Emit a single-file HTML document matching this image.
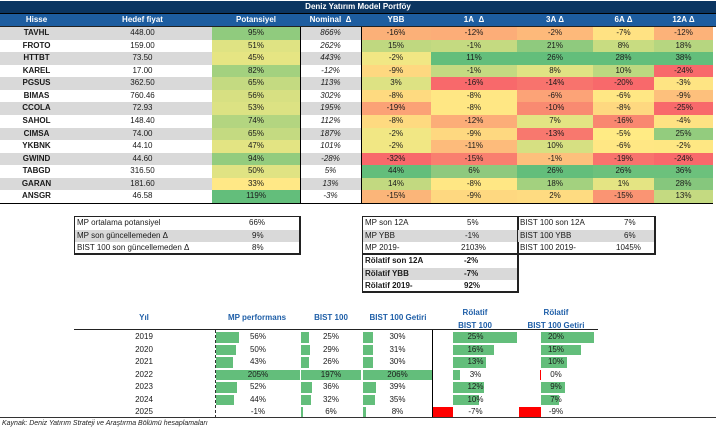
<!DOCTYPE html>
<html><head><meta charset="utf-8"><style>
*{margin:0;padding:0;box-sizing:border-box}
body{width:716px;height:432px;background:#fff;font-family:"Liberation Sans",sans-serif;font-size:8px;color:#1a1a1a;position:relative;overflow:hidden}
.a{position:absolute}
.row{position:absolute;left:0;height:12.57px;display:flex}
.row div{height:100%;line-height:12.57px;text-align:center;white-space:nowrap}
.c0{width:73px;font-weight:bold}.c1{width:139px}.c2{width:88px}.c3{width:61px;font-style:italic}.c4{width:70px}.c5{width:86px}.c6{width:76px}.c7{width:61px}.c8{width:59px}
.g{background:#d9d9d9}
.hd div{color:#fff;font-weight:bold;font-style:normal}
.box{position:absolute;border:1px solid #222;border-right-width:2px;border-bottom-width:2px}
.br{position:absolute;left:0;right:0;height:12.7px;line-height:12.7px}
.br span{position:absolute}
.yr{position:absolute;left:0;width:716px;height:12.5px;line-height:12.5px}
.yr span{position:absolute;text-align:center}
.bar{position:absolute;top:1px;height:10.5px;background:#63be7b}
.red{position:absolute;top:1px;height:10.5px;background:#ff0000}
.bh{position:absolute;color:#1f5fa8;font-weight:bold;text-align:center}
</style></head><body>
<div class="a" style="left:0;top:1px;width:716px;height:12px;background:#0b3561;color:#fff;font-weight:bold;text-align:center;line-height:12px">Deniz Yatırım Model Portföy</div>
<div class="a" style="left:0;top:13px;width:716px;height:1px;background:#000"></div>
<div class="row hd" style="top:14px;background:#1d5da0;width:716px;height:12.5px"><div class="c0">Hisse</div><div class="c1">Hedef fiyat</div><div class="c2">Potansiyel</div><div class="c3">Nominal&nbsp; Δ</div><div class="c4">YBB</div><div class="c5">1A&nbsp; Δ</div><div class="c6">3A Δ</div><div class="c7">6A Δ</div><div class="c8">12A Δ</div></div>
<div class="a" style="left:0;top:26px;width:716px;height:1px;background:#222"></div>

<div class="row" style="top:27px"><div class="c0 g">TAVHL</div><div class="c1 g">448.00</div><div class="c2" style="background:#90cb7e">95%</div><div class="c3 g">866%</div><div class="c4" style="background:#fbb078">-16%</div><div class="c5" style="background:#fcad78">-12%</div><div class="c6" style="background:#fdb97a">-2%</div><div class="c7" style="background:#ffe283">-7%</div><div class="c8" style="background:#fcb279">-12%</div></div>
<div class="row" style="top:39.57px"><div class="c0">FROTO</div><div class="c1">159.00</div><div class="c2" style="background:#dfe383">51%</div><div class="c3">262%</div><div class="c4" style="background:#bfd880">15%</div><div class="c5" style="background:#c4da81">-1%</div><div class="c6" style="background:#8fca7e">21%</div><div class="c7" style="background:#c8dc81">8%</div><div class="c8" style="background:#b6d680">18%</div></div>
<div class="row" style="top:52.14px"><div class="c0 g">HTTBT</div><div class="c1 g">73.50</div><div class="c2" style="background:#e6e583">45%</div><div class="c3 g">443%</div><div class="c4" style="background:#f1e784">-2%</div><div class="c5" style="background:#63be7b">11%</div><div class="c6" style="background:#63be7b">26%</div><div class="c7" style="background:#63be7b">28%</div><div class="c8" style="background:#63be7b">38%</div></div>
<div class="row" style="top:64.71px"><div class="c0">KAREL</div><div class="c1">17.00</div><div class="c2" style="background:#a3d17f">82%</div><div class="c3">-12%</div><div class="c4" style="background:#fed880">-9%</div><div class="c5" style="background:#c4da81">-1%</div><div class="c6" style="background:#e0e383">8%</div><div class="c7" style="background:#bcd880">10%</div><div class="c8" style="background:#f8696b">-24%</div></div>
<div class="row" style="top:77.28px"><div class="c0 g">PGSUS</div><div class="c1 g">362.50</div><div class="c2" style="background:#c4da81">65%</div><div class="c3 g">113%</div><div class="c4" style="background:#dde283">3%</div><div class="c5" style="background:#f8696b">-16%</div><div class="c6" style="background:#f8736d">-14%</div><div class="c7" style="background:#f8696b">-20%</div><div class="c8" style="background:#fee483">-3%</div></div>
<div class="row" style="top:89.85px"><div class="c0">BIMAS</div><div class="c1">760.46</div><div class="c2" style="background:#d7e082">56%</div><div class="c3">302%</div><div class="c4" style="background:#feda80">-8%</div><div class="c5" style="background:#ffe784">-8%</div><div class="c6" style="background:#fca377">-6%</div><div class="c7" style="background:#ffe784">-6%</div><div class="c8" style="background:#fdc07c">-9%</div></div>
<div class="row" style="top:102.42px"><div class="c0 g">CCOLA</div><div class="c1 g">72.93</div><div class="c2" style="background:#dce283">53%</div><div class="c3 g">195%</div><div class="c4" style="background:#fba276">-19%</div><div class="c5" style="background:#ffe784">-8%</div><div class="c6" style="background:#f98a71">-10%</div><div class="c7" style="background:#fed880">-8%</div><div class="c8" style="background:#f8696b">-25%</div></div>
<div class="row" style="top:114.99px"><div class="c0">SAHOL</div><div class="c1">148.40</div><div class="c2" style="background:#b3d580">74%</div><div class="c3">112%</div><div class="c4" style="background:#feda80">-8%</div><div class="c5" style="background:#fcad78">-12%</div><div class="c6" style="background:#e3e483">7%</div><div class="c7" style="background:#f98770">-16%</div><div class="c8" style="background:#fee283">-4%</div></div>
<div class="row" style="top:127.56px"><div class="c0 g">CIMSA</div><div class="c1 g">74.00</div><div class="c2" style="background:#c4da81">65%</div><div class="c3 g">187%</div><div class="c4" style="background:#f1e784">-2%</div><div class="c5" style="background:#fed880">-9%</div><div class="c6" style="background:#f8786e">-13%</div><div class="c7" style="background:#ffeb84">-5%</div><div class="c8" style="background:#93cc7e">25%</div></div>
<div class="row" style="top:140.13px"><div class="c0">YKBNK</div><div class="c1">44.10</div><div class="c2" style="background:#e3e483">47%</div><div class="c3">101%</div><div class="c4" style="background:#f1e784">-2%</div><div class="c5" style="background:#fdbb7b">-11%</div><div class="c6" style="background:#d6e082">10%</div><div class="c7" style="background:#ffe784">-6%</div><div class="c8" style="background:#fee783">-2%</div></div>
<div class="row" style="top:152.7px"><div class="c0 g">GWIND</div><div class="c1 g">44.60</div><div class="c2" style="background:#93cc7e">94%</div><div class="c3 g">-28%</div><div class="c4" style="background:#f8696b">-32%</div><div class="c5" style="background:#f97f6f">-15%</div><div class="c6" style="background:#fdc07c">-1%</div><div class="c7" style="background:#f8736d">-19%</div><div class="c8" style="background:#f8696b">-24%</div></div>
<div class="row" style="top:165.27px"><div class="c0">TABGD</div><div class="c1">316.50</div><div class="c2" style="background:#e0e383">50%</div><div class="c3">5%</div><div class="c4" style="background:#63be7b">44%</div><div class="c5" style="background:#8ec97e">6%</div><div class="c6" style="background:#63be7b">26%</div><div class="c7" style="background:#6cc17c">26%</div><div class="c8" style="background:#6cc17c">36%</div></div>
<div class="row" style="top:177.84px"><div class="c0 g">GARAN</div><div class="c1 g">181.60</div><div class="c2" style="background:#ffe886">33%</div><div class="c3 g">13%</div><div class="c4" style="background:#c2d980">14%</div><div class="c5" style="background:#ffe784">-8%</div><div class="c6" style="background:#a3d17f">18%</div><div class="c7" style="background:#e4e483">1%</div><div class="c8" style="background:#86c77d">28%</div></div>
<div class="row" style="top:190.41px"><div class="c0">ANSGR</div><div class="c1">46.58</div><div class="c2" style="background:#63be7b">119%</div><div class="c3">-3%</div><div class="c4" style="background:#fbb579">-15%</div><div class="c5" style="background:#fed880">-9%</div><div class="c6" style="background:#fedb81">2%</div><div class="c7" style="background:#fa9473">-15%</div><div class="c8" style="background:#c4da81">13%</div></div>
<div class="a" style="left:300px;top:27px;width:1px;height:176px;background:#000"></div>
<div class="a" style="left:361px;top:27px;width:1px;height:176px;background:#000"></div>
<div class="a" style="left:0;top:203px;width:713px;height:1px;background:#000"></div>

<div class="box" style="left:74px;top:216px;width:227px;height:39px">
<div class="br" style="top:0"><span style="left:2px">MP ortalama potansiyel</span><span style="left:174px">66%</span></div>
<div class="br g" style="top:12.5px"><span style="left:2px">MP son güncellemeden Δ</span><span style="left:177px">9%</span></div>
<div class="br" style="top:25px"><span style="left:2px">BIST 100 son güncellemeden Δ</span><span style="left:177px">8%</span></div>
</div>
<div class="box" style="left:362px;top:216px;width:157px;height:39px">
<div class="br" style="top:0"><span style="left:2px">MP son 12A</span><span style="left:104px">5%</span></div>
<div class="br g" style="top:12.5px"><span style="left:2px">MP YBB</span><span style="left:102px">-1%</span></div>
<div class="br" style="top:25px"><span style="left:2px">MP 2019-</span><span style="left:98px">2103%</span></div>
</div>
<div class="box" style="left:517px;top:216px;width:139px;height:39px">
<div class="br" style="top:0"><span style="left:2px">BIST 100 son 12A</span><span style="left:106px">7%</span></div>
<div class="br g" style="top:12.5px"><span style="left:2px">BIST 100 YBB</span><span style="left:106px">6%</span></div>
<div class="br" style="top:25px"><span style="left:2px">BIST 100 2019-</span><span style="left:98px">1045%</span></div>
</div>
<div class="box" style="left:362px;top:254px;width:157px;height:39px;font-weight:bold">
<div class="br" style="top:0"><span style="left:2px">Rölatif son 12A</span><span style="left:101px">-2%</span></div>
<div class="br g" style="top:12.5px"><span style="left:2px">Rölatif YBB</span><span style="left:101px">-7%</span></div>
<div class="br" style="top:25px"><span style="left:2px">Rölatif 2019-</span><span style="left:101px">92%</span></div>
</div>

<div class="bh" style="left:124px;top:313px;width:40px">Yıl</div>
<div class="bh" style="left:217px;top:313px;width:80px">MP performans</div>
<div class="bh" style="left:301px;top:313px;width:60px">BIST 100</div>
<div class="bh" style="left:363px;top:313px;width:70px">BIST 100 Getiri</div>
<div class="bh" style="left:435px;top:306px;width:80px;line-height:13px">Rölatif<br>BIST 100</div>
<div class="bh" style="left:516px;top:306px;width:80px;line-height:13px">Rölatif<br>BIST 100 Getiri</div>
<div class="a" style="left:74px;top:329px;width:524px;height:1px;background:#222"></div>

<div class="yr" style="top:331px"><span style="left:124px;width:40px">2019</span><div class="bar" style="left:216px;width:23px"></div><span style="left:216px;width:84px">56%</span><div class="bar" style="left:301px;width:8px"></div><span style="left:301px;width:60px">25%</span><div class="bar" style="left:363px;width:10px"></div><span style="left:363px;width:69px">30%</span><div class="bar" style="left:453px;width:64px"></div><span style="left:453px;width:45px">25%</span><div class="bar" style="left:541px;width:53px"></div><span style="left:541px;width:30px">20%</span></div>
<div class="yr" style="top:343.5px"><span style="left:124px;width:40px">2020</span><div class="bar" style="left:216px;width:20px"></div><span style="left:216px;width:84px">50%</span><div class="bar" style="left:301px;width:9px"></div><span style="left:301px;width:60px">29%</span><div class="bar" style="left:363px;width:10px"></div><span style="left:363px;width:69px">31%</span><div class="bar" style="left:453px;width:41px"></div><span style="left:453px;width:45px">16%</span><div class="bar" style="left:541px;width:40px"></div><span style="left:541px;width:30px">15%</span></div>
<div class="yr" style="top:356px"><span style="left:124px;width:40px">2021</span><div class="bar" style="left:216px;width:17px"></div><span style="left:216px;width:84px">43%</span><div class="bar" style="left:301px;width:8px"></div><span style="left:301px;width:60px">26%</span><div class="bar" style="left:363px;width:10px"></div><span style="left:363px;width:69px">30%</span><div class="bar" style="left:453px;width:33px"></div><span style="left:453px;width:45px">13%</span><div class="bar" style="left:541px;width:26px"></div><span style="left:541px;width:30px">10%</span></div>
<div class="yr" style="top:368.5px"><span style="left:124px;width:40px">2022</span><div class="bar" style="left:216px;width:84px"></div><span style="left:216px;width:84px">205%</span><div class="bar" style="left:301px;width:60px"></div><span style="left:301px;width:60px">197%</span><div class="bar" style="left:363px;width:69px"></div><span style="left:363px;width:69px">206%</span><div class="bar" style="left:453px;width:7px"></div><span style="left:453px;width:45px">3%</span><div class="red" style="left:540px;width:1px"></div><span style="left:541px;width:30px">0%</span></div>
<div class="yr" style="top:381px"><span style="left:124px;width:40px">2023</span><div class="bar" style="left:216px;width:21px"></div><span style="left:216px;width:84px">52%</span><div class="bar" style="left:301px;width:11px"></div><span style="left:301px;width:60px">36%</span><div class="bar" style="left:363px;width:13px"></div><span style="left:363px;width:69px">39%</span><div class="bar" style="left:453px;width:31px"></div><span style="left:453px;width:45px">12%</span><div class="bar" style="left:541px;width:24px"></div><span style="left:541px;width:30px">9%</span></div>
<div class="yr" style="top:393.5px"><span style="left:124px;width:40px">2024</span><div class="bar" style="left:216px;width:18px"></div><span style="left:216px;width:84px">44%</span><div class="bar" style="left:301px;width:10px"></div><span style="left:301px;width:60px">32%</span><div class="bar" style="left:363px;width:12px"></div><span style="left:363px;width:69px">35%</span><div class="bar" style="left:453px;width:26px"></div><span style="left:453px;width:45px">10%</span><div class="bar" style="left:541px;width:18px"></div><span style="left:541px;width:30px">7%</span></div>
<div class="yr" style="top:406px"><span style="left:124px;width:40px">2025</span><span style="left:216px;width:84px">-1%</span><div class="bar" style="left:301px;width:2px"></div><span style="left:301px;width:60px">6%</span><div class="bar" style="left:363px;width:3px"></div><span style="left:363px;width:69px">8%</span><div class="red" style="left:433px;width:20px"></div><span style="left:453px;width:45px">-7%</span><div class="red" style="left:519px;width:22px"></div><span style="left:541px;width:30px">-9%</span></div>
<div class="a" style="left:215px;top:330px;width:0;height:88px;border-left:1px dashed #333"></div>
<div class="a" style="left:432px;top:330px;width:1px;height:88px;background:#000"></div>
<div class="a" style="left:0;top:417px;width:716px;height:1px;background:#333"></div>
<div class="a" style="left:2px;top:420px;font-size:7px;font-style:italic;color:#222">Kaynak: Deniz Yatırım Strateji ve Araştırma Bölümü hesaplamaları</div>
</body></html>
